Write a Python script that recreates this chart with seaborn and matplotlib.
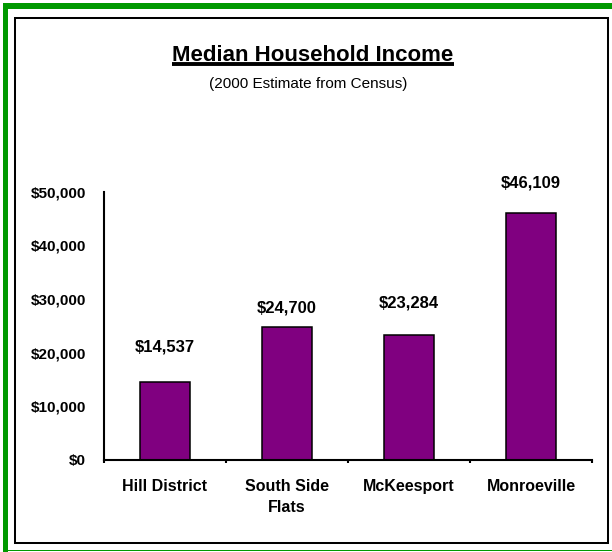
import matplotlib
matplotlib.use("Agg")
import matplotlib.pyplot as plt
from matplotlib.patches import Rectangle
from matplotlib.lines import Line2D
from matplotlib.ticker import FixedLocator, FuncFormatter
import seaborn as sns
import pandas as pd

# Data
areas = ["Hill District", "South Side\nFlats", "McKeesport", "Monroeville"]
income = [14537, 24700, 23284, 46109]
y_ticks = [0, 10000, 20000, 30000, 40000, 50000]
title = "Median Household Income"
subtitle = "(2000 Estimate from Census)"

# Vertical gap (points) between each bar top and its value label baseline
label_gaps = [21.6, 10.6, 19.7, 18.2]

sns.set_style("white")
plt.rcParams["font.family"] = ["Liberation Sans", "DejaVu Sans"]

W, H = 612, 552
fig = plt.figure(figsize=(W / 100, H / 100), dpi=100)
fig.patch.set_facecolor("white")


def frac_rect(x0, y0, x1, y1):
    """Pixel box (top-left origin) -> figure-fraction rectangle."""
    return (x0 / W, 1 - y1 / H, (x1 - x0) / W, (y1 - y0) / H)


# Green outer frame
green = "#009900"
for box in [(3, 3.5, W + 5, 8.5), (3, 3.5, 8.2, H + 5), (3, 550.2, W + 5, 551.4)]:
    x, y, w, h = frac_rect(*box)
    fig.add_artist(Rectangle((x, y), w, h, transform=fig.transFigure,
                             facecolor=green, edgecolor="none", zorder=0))

# Black inner frame
x, y, w, h = frac_rect(15.3, 18.3, 608.0, 543.3)
fig.add_artist(Rectangle((x, y), w, h, transform=fig.transFigure,
                         facecolor="none", edgecolor="black", linewidth=1.45, zorder=1))

# Plot area
ax = fig.add_axes(frac_rect(104, 191.7, 592, 460))
df = pd.DataFrame({"area": areas, "income": income})
sns.barplot(data=df, x="area", y="income", color="#800080", saturation=1,
            width=0.41, edgecolor="black", linewidth=1.1, ax=ax, zorder=3)

ax.set_ylim(0, 50000)
ax.set_xlim(-0.5, len(areas) - 0.5)
ax.set_xlabel("")
ax.set_ylabel("")
ax.set_facecolor("none")
ax.grid(False)

for side in ["top", "right"]:
    ax.spines[side].set_visible(False)
for side in ["left", "bottom"]:
    ax.spines[side].set_color("black")
    ax.spines[side].set_linewidth(1.5)
    ax.spines[side].set_zorder(4)

ax.yaxis.set_major_locator(FixedLocator(y_ticks))
ax.yaxis.set_major_formatter(FuncFormatter(lambda v, _: f"${v:,.0f}"))
ax.tick_params(axis="y", direction="out", length=3, width=1.5, color="black",
               pad=10, labelsize=11, labelcolor="black")
for lab in ax.get_yticklabels():
    lab.set_fontweight("bold")

# Category labels under the bars, tick marks between categories
ax.set_xticks(range(len(areas)))
ax.set_xticklabels(areas, fontweight="bold", fontsize=11.5, linespacing=1.45)
ax.tick_params(axis="x", which="major", length=0, pad=14, labelcolor="black")
ax.xaxis.set_minor_locator(FixedLocator([i - 0.5 for i in range(len(areas) + 1)]))
ax.tick_params(axis="x", which="minor", direction="out", length=2.5, width=1.5,
               color="black", bottom=True)

# Value labels
for i, (v, gap) in enumerate(zip(income, label_gaps)):
    ax.annotate(f"${v:,.0f}", xy=(i, v), xytext=(0, gap), textcoords="offset points",
                ha="center", va="baseline", fontsize=12, fontweight="bold",
                color="black", annotation_clip=False)

# Title with underline, and subtitle
t = fig.text(313 / W, 1 - 60.7 / H, title, ha="center", va="baseline",
             fontsize=16, fontweight="bold", color="black")
fig.text(308 / W, 1 - 83.5 / H, subtitle, ha="center", va="center",
         fontsize=11, color="black")

fig.canvas.draw()
bb = t.get_window_extent(renderer=fig.canvas.get_renderer())
uy = 1 - 64 / H
fig.add_artist(Line2D([bb.x0 / W, bb.x1 / W], [uy, uy], transform=fig.transFigure,
                      color="black", linewidth=2.8, solid_capstyle="butt"))

fig.savefig("out.png", dpi=100, facecolor="white")
